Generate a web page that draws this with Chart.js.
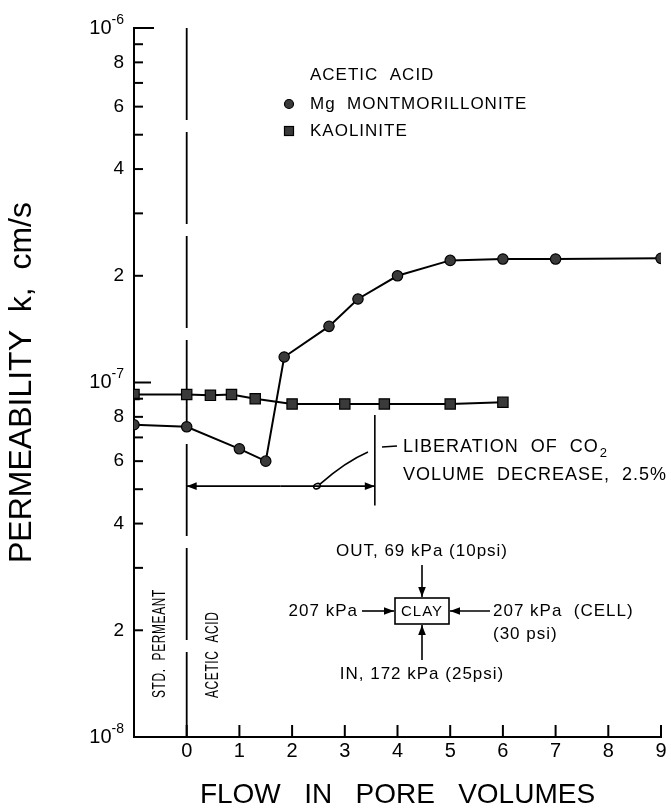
<!DOCTYPE html>
<html>
<head>
<meta charset="utf-8">
<script src="https://cdn.jsdelivr.net/npm/chart.js@4.4.1/dist/chart.umd.min.js"></script>
<style>
  html, body { margin: 0; padding: 0; background: #fff; }
  #wrap { width: 671px; height: 812px; }
</style>
</head>
<body>
<div id="wrap"><canvas id="myChart" width="671" height="812"></canvas></div>
<script>
// flow in pore volumes (x) and permeability k, cm/s (y)
const montFlow = [-1, 0, 1, 1.5, 1.85, 2.7, 3.25, 4, 5, 6, 7, 9];
const montK = [7.6e-8, 7.5e-8, 6.5e-8, 6.0e-8, 1.18e-7, 1.44e-7, 1.72e-7, 2.0e-7, 2.21e-7, 2.23e-7, 2.23e-7, 2.24e-7];

const kaolFlow = [-1, 0, 0.45, 0.85, 1.3, 2, 3, 3.75, 5, 6];
const kaolK = [9.25e-8, 9.25e-8, 9.2e-8, 9.25e-8, 9.0e-8, 8.7e-8, 8.7e-8, 8.7e-8, 8.7e-8, 8.8e-8];

const xTickValues = [0, 1, 2, 3, 4, 5, 6, 7, 8, 9];
const yTickValues = [
  1e-8, 2e-8, 3e-8, 4e-8, 5e-8, 6e-8, 7e-8, 8e-8, 9e-8,
  1e-7, 2e-7, 3e-7, 4e-7, 5e-7, 6e-7, 7e-7, 8e-7, 9e-7, 1e-6
];
const yTickText = [
  "", "2", "", "4", "", "6", "", "8", "",
  "", "2", "", "4", "", "6", "", "8", "", ""
];
// decade labels, drawn as 10 with a raised exponent
const decadeValues = [1e-8, 1e-7, 1e-6];
const decadeExponents = ["-8", "-7", "-6"];

// bracket for the CO2 note (data units)
const bracketFlow = [0, 3.57];
const bracketK = 5.1e-8;
const bracketEndK = [8.1e-8, 4.5e-8];

const FONT = "'Liberation Sans', Arial, 'DejaVu Sans', sans-serif";

const text = (ctx, s, x, y, size, align) => {
  ctx.font = size + "px " + FONT;
  ctx.textAlign = align || "left";
  ctx.textBaseline = "middle";
  ctx.fillText(s, x, y);
};

const arrowHead = (ctx, x, y, angle, size) => {
  ctx.save();
  ctx.translate(x, y);
  ctx.rotate(angle);
  ctx.beginPath();
  ctx.moveTo(0, 0);
  ctx.lineTo(-size, -size * 0.38);
  ctx.lineTo(-size, size * 0.38);
  ctx.closePath();
  ctx.fill();
  ctx.restore();
};

const arrow = (ctx, x1, y1, x2, y2) => {
  ctx.beginPath();
  ctx.moveTo(x1, y1);
  ctx.lineTo(x2, y2);
  ctx.stroke();
  arrowHead(ctx, x2, y2, Math.atan2(y2 - y1, x2 - x1), 10);
};

const figureExtras = {
  id: "figureExtras",
  beforeDatasetsDraw(chart) {
    const { ctx, chartArea } = chart;
    const x0 = chart.scales.x.getPixelForValue(0);
    ctx.save();
    ctx.strokeStyle = "#000";
    ctx.lineWidth = 1.8;
    ctx.setLineDash([92, 12]);
    ctx.beginPath();
    ctx.moveTo(x0, chartArea.top);
    ctx.lineTo(x0, chartArea.bottom);
    ctx.stroke();
    ctx.restore();
  },
  afterDraw(chart) {
    const { ctx, chartArea } = chart;
    const xs = chart.scales.x;
    const ys = chart.scales.y;
    ctx.save();
    ctx.strokeStyle = "#000";
    ctx.fillStyle = "#000";
    ctx.lineWidth = 2;

    // inward ticks
    yTickValues.forEach((v, i) => {
      if (i === 0) return;
      const py = ys.getPixelForValue(v);
      const len = i === 9 ? 17 : (i === 18 ? 20 : 9);
      ctx.beginPath();
      ctx.moveTo(chartArea.left, py);
      ctx.lineTo(chartArea.left + len, py);
      ctx.stroke();
    });
    xTickValues.forEach((v) => {
      const px = xs.getPixelForValue(v);
      ctx.beginPath();
      ctx.moveTo(px, chartArea.bottom);
      ctx.lineTo(px, chartArea.bottom - 12);
      ctx.stroke();
    });

    // decade labels
    decadeValues.forEach((v, i) => {
      const py = ys.getPixelForValue(v);
      const right = chartArea.left - 10;
      text(ctx, decadeExponents[i], right, py - 8, 14, "right");
      const ew = ctx.measureText(decadeExponents[i]).width;
      text(ctx, "10", right - ew, py, 20, "right");
    });

    ctx.letterSpacing = "1px";

    // legend
    text(ctx, "ACETIC  ACID", 310, 75, 17);
    ctx.lineWidth = 1.2;
    ctx.fillStyle = "#3a3a3a";
    ctx.beginPath();
    ctx.arc(289, 104, 4.5, 0, Math.PI * 2);
    ctx.fill();
    ctx.stroke();
    ctx.fillRect(284.5, 126.5, 9, 9);
    ctx.strokeRect(284.5, 126.5, 9, 9);
    ctx.fillStyle = "#000";
    text(ctx, "Mg  MONTMORILLONITE", 310, 104, 17);
    text(ctx, "KAOLINITE", 310, 131, 17);

    // rotated region labels (condensed lettering)
    [["STD.  PERMEANT", 160], ["ACETIC  ACID", 213]].forEach(([s, x]) => {
      ctx.save();
      ctx.translate(x, 698);
      ctx.rotate(-Math.PI / 2);
      ctx.scale(0.66, 1);
      text(ctx, s, 0, 0, 18);
      ctx.restore();
    });

    // bracket: liberation of CO2
    ctx.lineWidth = 1.6;
    const bx0 = xs.getPixelForValue(bracketFlow[0]);
    const bx1 = xs.getPixelForValue(bracketFlow[1]);
    const by = ys.getPixelForValue(bracketK);
    ctx.beginPath();
    ctx.moveTo(bx1, ys.getPixelForValue(bracketEndK[0]));
    ctx.lineTo(bx1, ys.getPixelForValue(bracketEndK[1]));
    ctx.stroke();
    arrow(ctx, (bx0 + bx1) / 2, by, bx0, by);
    arrow(ctx, (bx0 + bx1) / 2, by, bx1, by);
    ctx.beginPath();
    ctx.ellipse(317, by, 3.5, 2.5, -0.4, 0, Math.PI * 2);
    ctx.stroke();
    ctx.beginPath();
    ctx.moveTo(320, by - 2);
    ctx.quadraticCurveTo(345, 462, 368, 452);
    ctx.stroke();
    ctx.beginPath();
    ctx.moveTo(382, 447);
    ctx.lineTo(397, 446);
    ctx.stroke();
    text(ctx, "LIBERATION  OF  CO", 403, 447, 18);
    const w = ctx.measureText("LIBERATION  OF  CO").width;
    text(ctx, "2", 403 + w + 1, 453, 13);
    text(ctx, "VOLUME  DECREASE,  2.5%", 403, 475, 18);

    // cell diagram
    const cx = 422, cy = 611;
    ctx.lineWidth = 1.6;
    ctx.strokeRect(cx - 27, cy - 13, 54, 26);
    text(ctx, "CLAY", cx, cy + 1, 15, "center");
    arrow(ctx, cx, cy - 46, cx, cy - 14);
    arrow(ctx, cx, cy + 49, cx, cy + 14);
    arrow(ctx, cx - 60, cy, cx - 28, cy);
    arrow(ctx, cx + 68, cy, cx + 28, cy);
    text(ctx, "OUT, 69 kPa (10psi)", cx, cy - 60, 17, "center");
    text(ctx, "207 kPa", cx - 64, cy, 17, "right");
    text(ctx, "207 kPa  (CELL)", cx + 71, cy, 17);
    text(ctx, "(30 psi)", cx + 71, cy + 23, 17);
    text(ctx, "IN, 172 kPa (25psi)", cx, cy + 63, 17, "center");

    ctx.restore();
  }
};

const ctx = document.getElementById("myChart").getContext("2d");

new Chart(ctx, {
  type: "scatter",
  data: {
    datasets: [
      {
        label: "Mg MONTMORILLONITE",
        data: montFlow.map((x, i) => ({ x: x, y: montK[i] })),
        showLine: true,
        borderColor: "#000",
        borderWidth: 2,
        tension: 0,
        pointStyle: "circle",
        pointRadius: 5.2,
        pointBackgroundColor: "#3a3a3a",
        pointBorderColor: "#000",
        pointBorderWidth: 1.2,
      },
      {
        label: "KAOLINITE",
        data: kaolFlow.map((x, i) => ({ x: x, y: kaolK[i] })),
        showLine: true,
        borderColor: "#000",
        borderWidth: 2,
        tension: 0,
        pointStyle: "rect",
        pointRadius: 7.3,
        pointBackgroundColor: "#3a3a3a",
        pointBorderColor: "#000",
        pointBorderWidth: 1.2,
      },
    ],
  },
  options: {
    responsive: false,
    animation: false,
    layout: { padding: { top: 28, right: 10, left: 0, bottom: 0 } },
    plugins: {
      legend: { display: false },
      tooltip: { enabled: false },
    },
    scales: {
      x: {
        type: "linear",
        min: -1,
        max: 9,
        afterBuildTicks: (scale) => {
          scale.ticks = xTickValues.map((v) => ({ value: v }));
        },
        afterFit: (scale) => { scale.height = 75; },
        grid: { display: false, drawTicks: false },
        border: { display: true, color: "#000", width: 2 },
        ticks: {
          autoSkip: false,
          maxRotation: 0,
          padding: 2,
          color: "#000",
          font: { family: FONT, size: 20 },
        },
        title: {
          display: true,
          text: "FLOW   IN   PORE   VOLUMES",
          color: "#000",
          font: { family: FONT, size: 28 },
          padding: { top: 0, bottom: 0 },
        },
      },
      y: {
        type: "logarithmic",
        min: 1e-8,
        max: 1e-6,
        afterBuildTicks: (scale) => {
          scale.ticks = yTickValues.map((v) => ({ value: v }));
        },
        afterFit: (scale) => { scale.width = 134; },
        grid: { display: false, drawTicks: false },
        border: { display: true, color: "#000", width: 2 },
        ticks: {
          autoSkip: false,
          padding: 10,
          color: "#000",
          font: { family: FONT, size: 19 },
          callback: (value, index) => yTickText[index],
        },
        title: {
          display: true,
          text: "PERMEABILITY  k,  cm/s",
          color: "#000",
          font: { family: FONT, size: 32 },
          padding: { top: 3, bottom: 0 },
        },
      },
    },
  },
  plugins: [figureExtras],
});
</script>
</body>
</html>
